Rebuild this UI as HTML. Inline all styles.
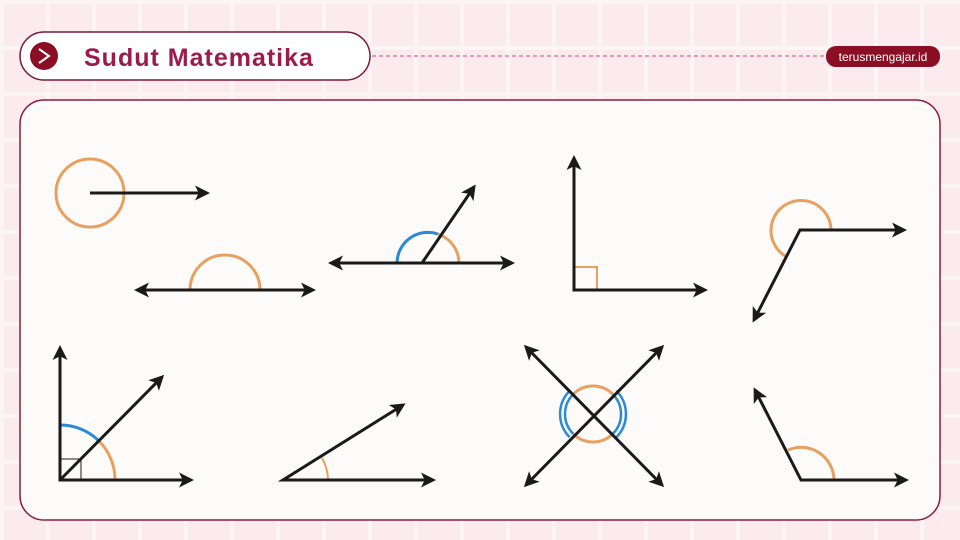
<!DOCTYPE html>
<html><head><meta charset="utf-8"><style>
html,body{margin:0;padding:0;width:960px;height:540px;overflow:hidden;background:#fbebef;
background-image:linear-gradient(#fdf4f6 4px,transparent 4px),linear-gradient(90deg,#fdf4f6 4px,transparent 4px);background-size:46px 46px;}
</style></head><body>
<svg width="960" height="540" viewBox="0 0 960 540" xmlns="http://www.w3.org/2000/svg" style="position:absolute;left:0;top:0" font-family="Liberation Sans, sans-serif">
<defs>
<marker id="ar" viewBox="0 0 10 10" refX="8" refY="5" markerWidth="5" markerHeight="5" orient="auto-start-reverse"><path d="M0,0 L10,5 L0,10 L2.5,5 z" fill="#1a1a1a"/></marker>
</defs>
<g>
<rect x="20" y="32" width="350" height="48" rx="24" fill="#fff" stroke="#7a1838" stroke-width="1.5"/>
<circle cx="44" cy="56" r="14" fill="#8b0f24"/>
<path d="M39,49 L49,56 L39,63" fill="none" stroke="#fff" stroke-width="2"/>
<text x="84" y="66" font-size="25" font-weight="bold" fill="#9b1b4b" letter-spacing="1">Sudut Matematika</text>
<line x1="372" y1="56" x2="826" y2="56" stroke="#d66a86" stroke-width="1.2" stroke-dasharray="4,3"/>
<rect x="826" y="46" width="114" height="21" rx="10" fill="#8b0f24"/>
<text x="883" y="61" font-size="12" fill="#fff" text-anchor="middle">terusmengajar.id</text>
</g>
<rect x="20" y="100" width="920" height="420" rx="24" fill="#fdfbf9" stroke="#8b1a40" stroke-width="1.5"/>
<g fill="none" stroke="#1a1a1a" stroke-width="3">
<g>
<circle cx="90" cy="193" r="34" stroke="#e8a060"/>
<line x1="90" y1="193" x2="207" y2="193" marker-end="url(#ar)"/>
</g>
<g>
<path d="M190,290 A35,35 0 0 1 260,290" stroke="#e8a060"/>
<line x1="137" y1="290" x2="313" y2="290" marker-start="url(#ar)" marker-end="url(#ar)"/>
</g>
<g>
<path d="M397,263 A31,31 0 0 1 438,234" stroke="#2b8ad8"/>
<path d="M438,234 A31,31 0 0 1 459,263" stroke="#e8a060"/>
<line x1="331" y1="263" x2="512" y2="263" marker-start="url(#ar)" marker-end="url(#ar)"/>
<line x1="422" y1="263" x2="474" y2="187" marker-end="url(#ar)"/>
</g>
<g>
<path d="M574,267 L597,267 L597,290" stroke="#e8a060" stroke-width="2"/>
<polyline points="574,158 574,290 705,290" marker-start="url(#ar)" marker-end="url(#ar)"/>
</g>
<g>
<path d="M831,230 A30,30 0 1 0 787,257" stroke="#e8a060"/>
<polyline points="904,230 800,230 754,320" marker-start="url(#ar)" marker-end="url(#ar)"/>
</g>
<g>
<path d="M60,425 A55,55 0 0 1 99,441" stroke="#2b8ad8"/>
<path d="M99,441 A55,55 0 0 1 115,480" stroke="#e8a060"/>
<rect x="60" y="459" width="21" height="21" stroke-width="1"/>
<polyline points="60,348 60,480 191,480" marker-start="url(#ar)" marker-end="url(#ar)"/>
<line x1="60" y1="480" x2="162" y2="377" marker-end="url(#ar)"/>
</g>
<g>
<path d="M328,480 A45,45 0 0 0 322,458" stroke="#e8a060" stroke-width="2"/>
<polyline points="403,405 283,480 433,480" marker-start="url(#ar)" marker-end="url(#ar)"/>
</g>
<g>
<path d="M573.2,394.2 A28,28 0 0 1 612.8,394.2 M573.2,433.8 A28,28 0 0 0 612.8,433.8" stroke="#e8a060"/>
<path d="M573.2,394.2 A28,28 0 0 0 573.2,433.8 M569.7,390.7 A33,33 0 0 0 569.7,437.3" stroke="#2b8ad8" stroke-width="2.5"/>
<path d="M612.8,394.2 A28,28 0 0 1 612.8,433.8 M616.3,390.7 A33,33 0 0 1 616.3,437.3" stroke="#2b8ad8" stroke-width="2.5"/>
<line x1="526" y1="347" x2="662" y2="485" marker-start="url(#ar)" marker-end="url(#ar)"/>
<line x1="662" y1="347" x2="526" y2="485" marker-start="url(#ar)" marker-end="url(#ar)"/>
</g>
<g>
<path d="M834,480 A33,33 0 0 0 788,450" stroke="#e8a060"/>
<polyline points="755,390 801,480 906,480" marker-start="url(#ar)" marker-end="url(#ar)"/>
</g>
</g>
</svg>
</body></html>
